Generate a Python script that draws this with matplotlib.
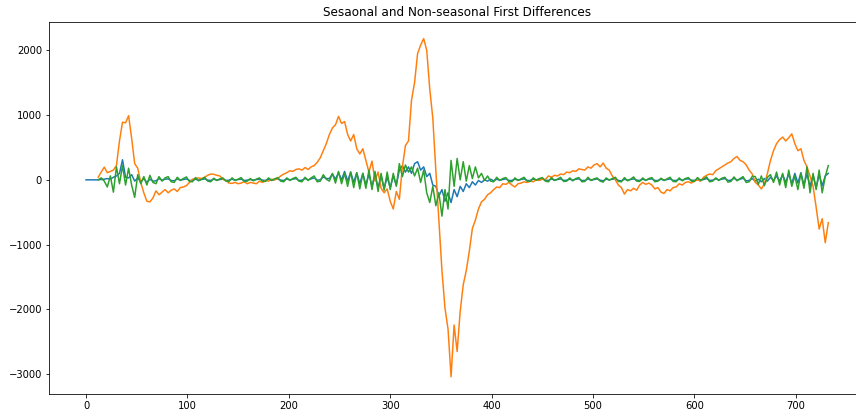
import numpy as np
import matplotlib
matplotlib.use("Agg")
import matplotlib.pyplot as plt

nan = np.nan

# values read every 3 days (index * 3 = day)
first_diff = [
    0, 0, 0, 0, 0, 5, 10, 20, 10, 40,
    60, 100, 310, 40, 30, 80, -20, 30, -30, 20,
    -40, 10, -20, -15, 20, -5, 10, 15, -10, -15,
    15, -5, 5, 15, -10, -10, 10, -5, 5, 15,
    -5, -10, 10, -5, 5, 10, -10, -5, 10, -5,
    5, 10, -10, -5, 5, -5, 5, 10, -5, -10,
    10, -5, 5, 15, -5, -10, 15, 0, 10, 20,
    -10, -5, 20, 0, 15, 30, -5, 0, 45, 20,
    20, 90, 10, 110, 0, 130, -20, 120, -40, 110,
    -60, 100, -80, 90, -100, 80, -120, 60, -130, 40,
    -120, 60, -80, 150, 220, 120, 200, 100, 250, 280,
    150, 200, 50, 100, -80, -100, -250, -150, -330, -200,
    -350, -150, -260, -100, -180, -60, -120, -30, -80, -10,
    -40, 0, -20, 10, -15, 10, -5, 5, 15, -10,
    -10, 10, -5, 5, 15, -10, -10, 10, 0, 10,
    15, -5, -10, 15, -5, 5, 15, -10, -5, 10,
    -5, 10, 15, -10, -10, 15, -5, 5, 15, -5,
    -15, 10, 0, 10, 15, -10, -15, 10, -5, 5,
    15, -5, -10, 10, -5, 10, 15, -10, -10, 10,
    -5, 5, 15, -10, -10, 10, -5, 10, 15, -5,
    -10, 15, -5, 5, 20, -10, -5, 15, 0, 10,
    20, -10, -5, 25, -5, 10, 25, -15, -10, 20,
    -20, 10, -30, 20, -20, 40, -10, 60, -20, 80,
    -40, 90, -60, 100, -50, 110, -80, 90, -100, 70,
    -120, 80, -90, 60, 100,
]

seasonal_diff = [
    nan, nan, nan, nan, 40, 120, 196, 110, 130, 150,
    220, 600, 890, 880, 990, 640, 250, 180, -40, -200,
    -330, -340, -280, -170, -230, -190, -150, -200, -160, -140,
    -180, -120, -110, -90, -40, 10, 20, 30, 20, 40,
    70, 90, 85, 70, 60, 10, -10, -50, -55, -40,
    -60, -50, -30, -60, -40, -50, -60, -20, -40, -10,
    -20, 10, 0, 20, 60, 90, 110, 140, 130, 160,
    170, 150, 190, 160, 200, 220, 270, 340, 450, 560,
    700, 800, 850, 980, 870, 900, 700, 600, 700, 480,
    400, 480, 300, 120, 290, -20, 120, -130, -200, -140,
    -330, -450, -180, -300, 200, 530, 600, 1230, 1500, 1950,
    2080, 2180, 2000, 1400, 950, 140, -630, -1400, -1980, -2300,
    -3040, -2240, -2650, -2030, -1620, -1400, -1100, -750, -620, -450,
    -340, -300, -230, -200, -150, -110, -120, -60, -70, -40,
    -80, -110, -60, -50, -30, -40, -20, -30, 0, -10,
    10, 5, 60, 40, 70, 60, 90, 80, 120, 110,
    140, 130, 170, 160, 150, 200, 180, 230, 250, 200,
    260, 180, 150, 60, 0, -80, -120, -220, -150, -170,
    -130, -160, -80, -40, -70, -50, -80, -140, -120, -190,
    -210, -150, -170, -120, -110, -60, -80, -40, -30, -50,
    -20, 0, -20, 40, 70, 90, 80, 140, 170, 200,
    230, 260, 280, 330, 360, 300, 280, 230, 150, 90,
    -40, -80, -140, -60, 100, 300, 450, 560, 620, 660,
    600, 650, 710, 560, 450, 480, 300, 200, 60, -100,
    -420, -760, -600, -970, -660,
]

seasonal_first_diff = [
    nan, nan, nan, nan, 0, 30, -20, -110, 60, -190,
    200, -60, 220, -80, 180, -80, -270, 80, -60, 50,
    -80, 70, -40, -60, 50, -20, 30, 50, -30, -40,
    40, -10, 20, 45, -25, -30, 35, -15, 10, 40,
    -20, -30, 25, -10, 15, 30, -20, -25, 30, -10,
    10, 35, -25, -20, 20, -15, 10, 30, -20, -25,
    30, -10, 15, 35, -20, -30, 30, -10, 20, 40,
    -20, -30, 40, -10, 30, 60, -30, -20, 80, 10,
    -20, 100, -50, 130, -60, 100, -100, 120, -120, 110,
    -140, 100, -130, 150, -150, 130, -180, 100, -160, 120,
    -150, 100, -100, 250, 50, 230, 120, 200, 60, 180,
    -40, 150, -200, -350, -100, -400, -200, -560, -150, -450,
    300, -100, 330, 0, 280, -20, 220, 20, 200, 30,
    100, -10, 60, -20, -30, 40, -10, 20, 35, -25,
    -30, 30, -10, 15, 40, -20, -25, 30, -5, 20,
    35, -20, -30, 35, -10, 10, 40, -25, -20, 30,
    -15, 20, 35, -30, -25, 40, -10, 15, 30, -20,
    -35, 30, -5, 20, 40, -25, -30, 35, -15, 10,
    45, -20, -25, 30, -10, 20, 35, -30, -20, 25,
    -10, 15, 40, -25, -30, 30, -15, 20, 35, -20,
    -25, 35, -10, 15, 45, -30, -20, 30, -10, 25,
    40, -35, -25, 45, -15, 20, 50, -40, -30, 55,
    50, -70, 60, -90, 40, 80, -40, 120, -80, 100,
    -120, 150, -100, 60, -150, 100, -130, 200, -200, 100,
    -150, 150, -200, 50, 220,
]

step = 3

fig = plt.figure(figsize=(856 / 72, 412 / 72), dpi=72)
# axes runs past the right edge, like the cropped original
ax = fig.add_axes([48.9 / 856, 18.3 / 412, 816.5 / 856, 372 / 412])

ax.plot(np.arange(len(first_diff)) * step, first_diff)
ax.plot(np.arange(len(seasonal_diff)) * step, seasonal_diff)
ax.plot(np.arange(len(seasonal_first_diff)) * step, seasonal_first_diff)
ax.set_title("Sesaonal and Non-seasonal First Differences")

fig.savefig("out.png", dpi=72)
